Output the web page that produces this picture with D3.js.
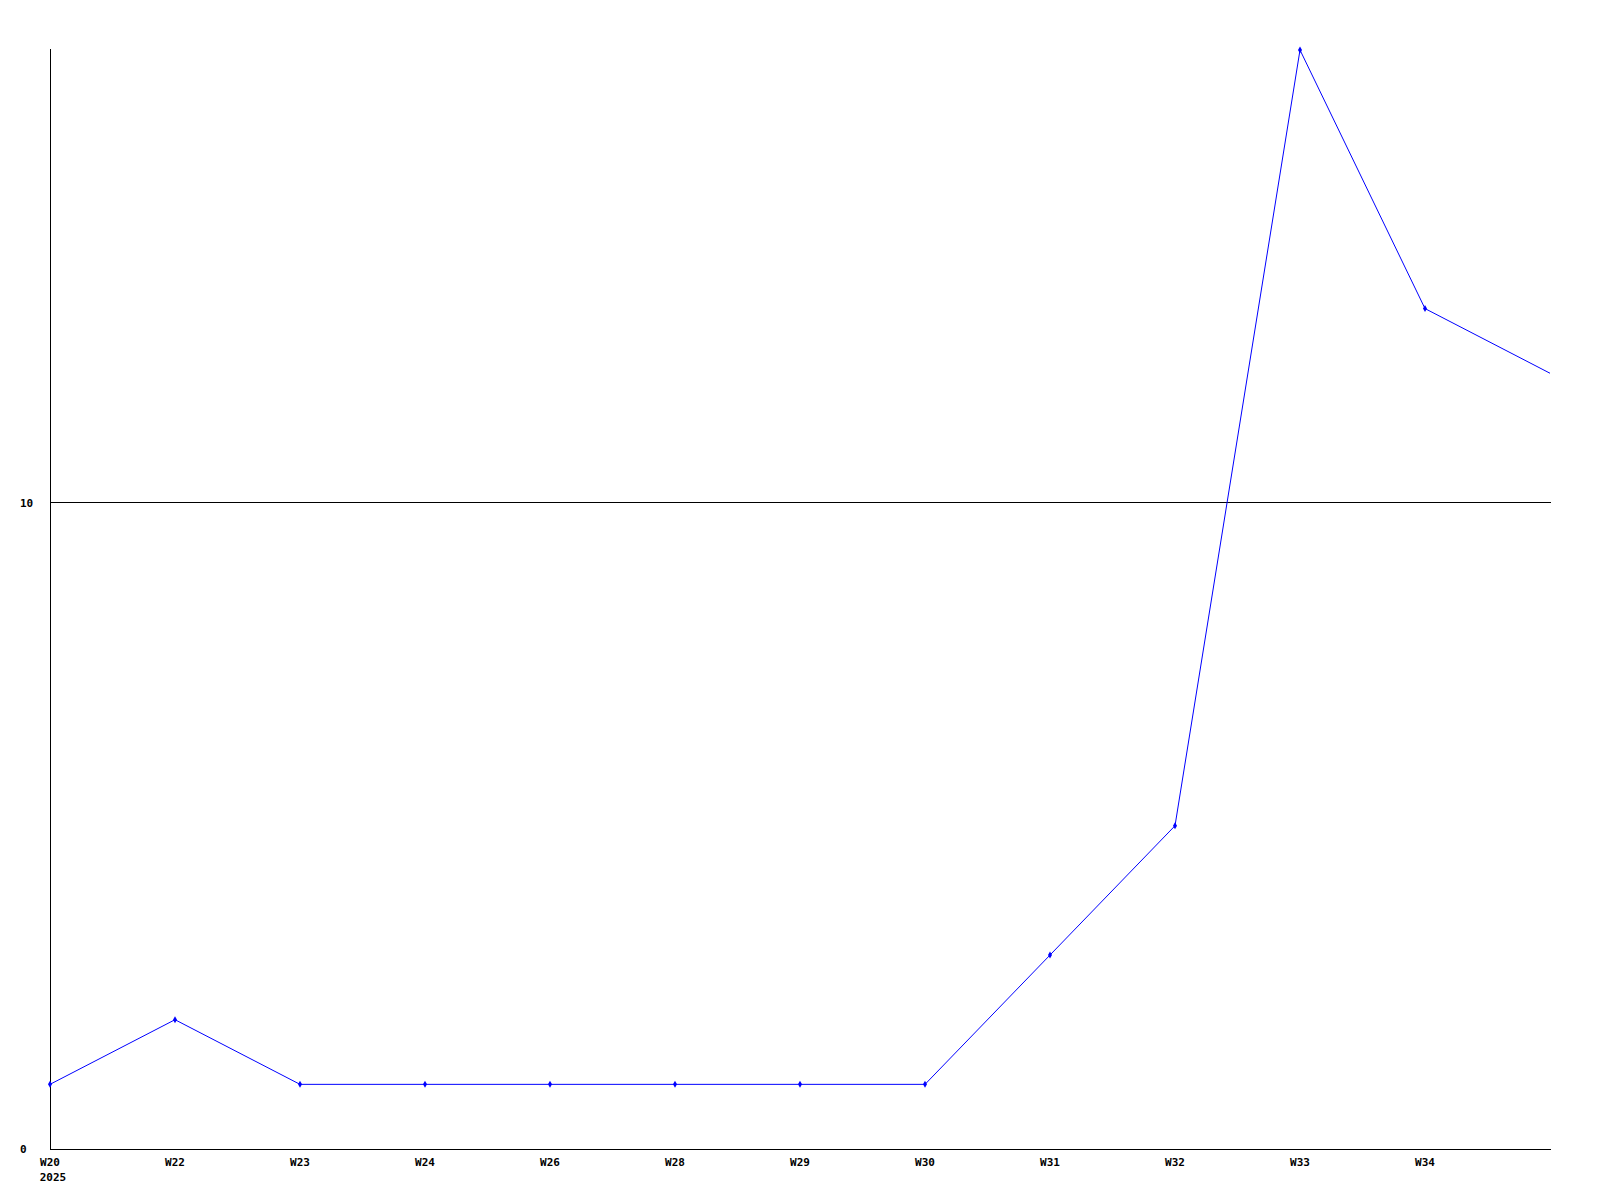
<!DOCTYPE html>
<html><head><meta charset="utf-8">
<script src="https://cdn.jsdelivr.net/npm/d3@7"></script>
<style>body{margin:0;background:#fff}svg{display:block}text{font-family:"DejaVu Sans Mono",monospace;font-weight:bold;font-size:11px;fill:#000}</style>
</head><body>
<script>
const categories = ["W20","W22","W23","W24","W26","W28","W29","W30","W31","W32","W33","W34",""];
const values = [1,2,1,1,1,1,1,1,3,5,17,13,12];
const yTicks = [0,10];
const yearLabel = "2025";

const W=1600,H=1200;
const svg=d3.select("body").append("svg").attr("width",W).attr("height",H);
const x=d3.scaleLinear().domain([0,categories.length-1]).range([50,1550]);
const y=d3.scaleLinear().domain([0,17]).range([1149,50]);

// grid
svg.selectAll("line.grid").data(yTicks.filter(d=>d>0)).join("line")
  .attr("x1",50).attr("x2",1551).attr("y1",d=>Math.floor(y(d))+0.5).attr("y2",d=>Math.floor(y(d))+0.5)
  .attr("stroke","#000").attr("shape-rendering","crispEdges");
// axes
svg.append("line").attr("x1",50.5).attr("x2",50.5).attr("y1",49).attr("y2",1150).attr("stroke","#000").attr("shape-rendering","crispEdges");
svg.append("line").attr("x1",50).attr("x2",1551).attr("y1",1149.5).attr("y2",1149.5).attr("stroke","#000").attr("shape-rendering","crispEdges");

svg.selectAll("text.yl").data(yTicks).join("text")
  .attr("x",20).attr("y",d=>y(d)+4).attr("text-anchor","start").text(d=>d);
svg.selectAll("text.xl").data(categories).join("text")
  .attr("x",(d,i)=>x(i)).attr("y",1166).attr("text-anchor","middle").text(d=>d);
svg.append("text").attr("x",x(0)+3).attr("y",1181).attr("text-anchor","middle").text(yearLabel);

const line=d3.line().x((d,i)=>x(i)).y(d=>y(d));
svg.append("path").datum(values).attr("d",line).attr("fill","none").attr("stroke","#0000ff").attr("stroke-width",1);
svg.selectAll("path.m").data(values.slice(0,-1)).join("path")
  .attr("transform",(d,i)=>`translate(${x(i)},${y(d)})`)
  .attr("d",d3.symbol().type(d3.symbolDiamond).size(14)).attr("fill","#0000ff");
</script>
</body></html>
